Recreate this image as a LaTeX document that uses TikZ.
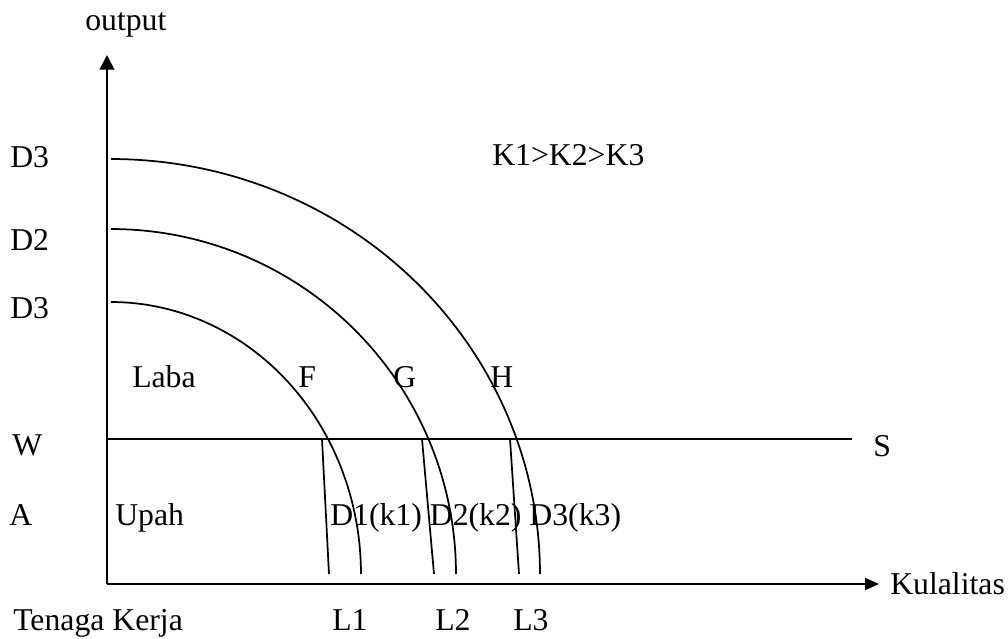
\documentclass[tikz,border=0pt]{standalone}
\usepackage{fontspec}
\setmainfont{Liberation Serif}
\usetikzlibrary{arrows.meta}
\begin{document}
\begin{tikzpicture}[x=0.75pt,y=-0.75pt,
  lbl/.style={anchor=base west,inner sep=0pt,font=\fontsize{23.8}{28}\selectfont},
  yaxisline/.style={line width=1.5pt,-{Triangle[length=11pt,width=11pt]}},
  xaxisline/.style={line width=1.5pt,-{Triangle[length=10.5pt,width=9pt]}},
  plainline/.style={line width=1.4pt},
  curve/.style={line width=1.3pt}]
\useasboundingbox (0,0) rectangle (1008,639);
% axes
\coordinate (O) at (107,584);
\coordinate (Ytop) at (107,55);
\coordinate (Xend) at (879,584);
\coordinate (Wl) at (107,439);
\coordinate (Wr) at (852,439);
\draw[yaxisline] (O) -- (Ytop);
\draw[xaxisline] (O) -- (Xend);
\draw[plainline] (Wl) -- (Wr);
% curves (quarter ellipses)
\draw[curve] plot[domain=0:90,samples=80] ({111+429*cos(\x)},{574-415*sin(\x)});
\draw[curve] plot[domain=0:90,samples=80] ({111+345*cos(\x)},{574-345*sin(\x)});
\draw[curve] plot[domain=0:90,samples=80] ({111+250*cos(\x)},{574-272*sin(\x)});
% near-vertical lines
\coordinate (a1) at (322,439); \coordinate (b1) at (329,574);
\coordinate (a2) at (422,439); \coordinate (b2) at (434,574);
\coordinate (a3) at (510,439); \coordinate (b3) at (519,574);
\draw[curve] (a1) -- (b1);
\draw[curve] (a2) -- (b2);
\draw[curve] (a3) -- (b3);
% labels
\node[lbl] (output) at (85,31) {output};
\node[lbl] (d3a) at (10,167) {D3};
\node[lbl] (d2) at (10,250) {D2};
\node[lbl] (d3b) at (10,318) {D3};
\node[lbl] (w) at (12,455) {W};
\node[lbl] (a) at (9,525) {A};
\node[lbl] (tk) at (13,630) {Tenaga Kerja};
\node[lbl] (laba) at (132,387) {Laba};
\node[lbl] (f) at (298,387) {F};
\node[lbl] (g) at (393,387) {G};
\node[lbl] (h) at (490,387) {H};
\node[lbl] (upah) at (115,525) {Upah};
\node[lbl] (dk) at (330,525) {D1(k1) D2(k2) D3(k3)};
\node[lbl] (k) at (492,165) {K1>K2>K3};
\node[lbl] (s) at (873,456) {S};
\node[lbl] (kul) at (890,594) {Kulalitas};
\node[lbl] (l1) at (332,630) {L1};
\node[lbl] (l2) at (435,630) {L2};
\node[lbl] (l3) at (513,630) {L3};
\end{tikzpicture}
\end{document}
